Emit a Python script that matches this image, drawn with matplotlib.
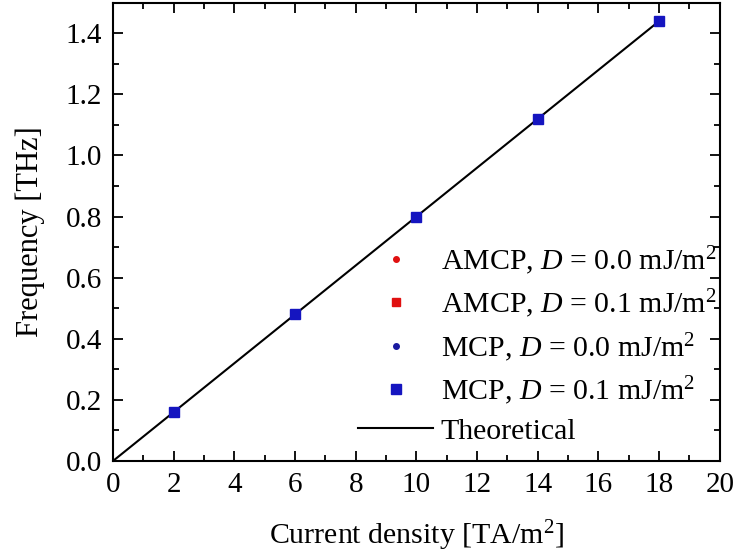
import matplotlib
matplotlib.use("Agg")
import matplotlib.pyplot as plt
import numpy as np

plt.rcParams['font.family'] = ['Liberation Serif', 'DejaVu Serif']
plt.rcParams['mathtext.fontset'] = 'custom'
plt.rcParams['mathtext.rm'] = 'Liberation Serif'
plt.rcParams['mathtext.it'] = 'Liberation Serif:italic'

# data
current = [2, 6, 10, 14, 18]
amcp_d0 = [0.16, 0.48, 0.80, 1.12, 1.44]
amcp_d1 = [0.16, 0.48, 0.80, 1.12, 1.44]
mcp_d0 = [0.16, 0.48, 0.80, 1.12, 1.44]
mcp_d1 = [0.16, 0.48, 0.80, 1.12, 1.44]
theory_x = [0, 18]
theory_y = [0.0, 1.44]

fig = plt.figure(figsize=(7.39, 5.56), dpi=100)
ax = fig.add_axes([0.153, 0.171, 0.821, 0.824])

ax.plot(current, amcp_d0, 'o', color='#e01010', ms=4,
        label='AMCP, $D$ = 0.0 mJ/m$^2$')
ax.plot(current, amcp_d1, 's', color='#e01010', ms=6,
        label='AMCP, $D$ = 0.1 mJ/m$^2$')
ax.plot(current, mcp_d0, 'o', color='#1a1aa0', ms=4,
        label='MCP, $D$ = 0.0 mJ/m$^2$')
ax.plot(current, mcp_d1, 's', color='#1515c0', ms=7,
        label='MCP, $D$ = 0.1 mJ/m$^2$')
ax.plot(theory_x, theory_y, '-', color='black', lw=1.5, label='Theoretical',
        zorder=1)

ax.set_xlim(0, 20)
ax.set_ylim(0, 1.5)
ax.set_xticks(np.arange(0, 21, 2))
ax.set_yticks(np.arange(0, 1.41, 0.2))
ax.set_yticklabels(['%.1f' % v for v in np.arange(0, 1.41, 0.2)])
ax.set_xticks(np.arange(1, 20, 2), minor=True)
ax.set_yticks(np.arange(0.1, 1.5, 0.2), minor=True)
ax.tick_params(which='both', direction='in', top=True, right=True,
               labelsize=21, width=1.3, pad=8)
ax.tick_params(which='major', length=7)
ax.tick_params(which='minor', length=4)
for s in ax.spines.values():
    s.set_linewidth(1.5)

ax.set_xlabel('Current density [TA/m$^2$]', fontsize=21.5, labelpad=15)
ax.set_ylabel('Frequency [THz]', fontsize=22, labelpad=15)

ax.legend(loc='upper left', bbox_to_anchor=(0.404, 0.474), frameon=False,
          fontsize=21.5, borderpad=0, handlelength=2.5, handletextpad=0.27,
          labelspacing=0.36, borderaxespad=0)

fig.savefig('out.png', dpi=100)
